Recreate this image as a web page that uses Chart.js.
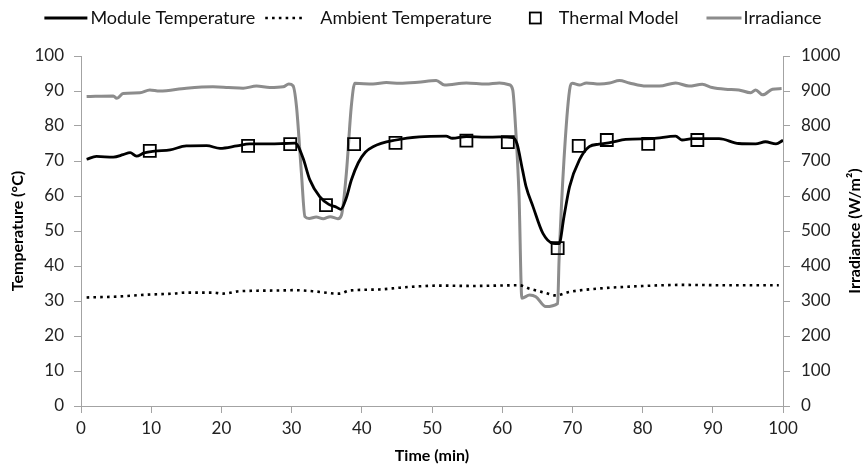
<!DOCTYPE html>
<html lang="en">
<head>
    <meta charset="UTF-8">
    <title>Module Temperature and Irradiance</title>
    <script src="https://cdn.jsdelivr.net/npm/chart.js"></script>
    <style>
        body { margin: 0; background: #fff; }
    </style>
</head>
<body>
    <canvas id="grafico" width="867" height="469"></canvas>

    <script>
        // Module temperature (solid black)
        const moduleTime = [0.8, 2.2, 4.6, 6.0, 7.0, 7.9, 9.0, 10.5, 12.7, 15.0, 17.9, 19.8, 22.2, 24.0, 26.9, 29.0, 30.5,
            31.6, 32.6, 34.0, 35.3, 36.4, 37.0, 37.8, 38.5, 39.5, 40.5, 41.6, 44.9, 48.2, 52.0, 52.9, 54.9, 57.7, 59.6, 61.5,
            62.1, 62.9, 63.4, 64.4, 65.8, 67.2, 68.1, 68.8, 69.6, 71.0, 72.4, 73.8, 75.5, 77.6, 81.4, 84.7, 85.6, 87.1,
            90.9, 93.7, 96.1, 97.5, 99.0, 100];
        const moduleTemp = [70.5, 71.3, 71.1, 71.8, 72.4, 71.4, 72.3, 72.8, 73.2, 74.3, 74.4, 73.6, 74.3, 74.9, 74.9, 75.0, 75.1,
            71.0, 64.6, 59.8, 57.6, 56.8, 56.2, 59.5, 64.5, 69.5, 72.5, 74.1, 76.0, 76.9, 77.1, 76.5, 77.0, 76.8, 76.9, 76.7,
            75.0, 67.4, 62.7, 56.9, 49.3, 46.5, 46.4, 54.1, 62.7, 70.3, 74.1, 74.8, 75.3, 76.2, 76.4, 77.1, 76.0, 76.4,
            76.4, 75.0, 74.9, 75.5, 74.9, 75.9];

        // Ambient temperature (dotted)
        const ambientTime = [0.8, 5.5, 9.3, 13.1, 15.0, 18.8, 20.2, 22.6, 28.3, 30.2, 33.0, 36.8, 38.3, 42.5, 45.4, 48.2,
            50.8, 56.0, 62.4, 63.9, 66.2, 67.6, 69.6, 73.4, 78.1, 85.7, 92.0, 99.4];
        const ambientTemp = [31.0, 31.3, 31.8, 32.1, 32.4, 32.4, 32.1, 32.8, 33.0, 33.1, 32.8, 32.1, 33.0, 33.3, 33.8, 34.2,
            34.4, 34.3, 34.5, 33.5, 32.3, 31.6, 32.6, 33.5, 34.1, 34.6, 34.5, 34.5];

        // Thermal model (squares)
        const modelTime = [9.8, 23.8, 29.8, 34.9, 38.9, 44.8, 54.9, 60.8, 67.9, 70.9, 74.9, 80.8, 87.8];
        const modelTemp = [72.9, 74.3, 74.8, 57.4, 74.8, 75.2, 75.8, 75.4, 45.1, 74.3, 76.0, 74.9, 76.0];

        // Irradiance (grey, right axis)
        const irrTime = [0.8, 4.6, 5.1, 6.0, 8.4, 9.8, 11.2, 15.0, 18.8, 21.0, 23.1, 25.0, 26.9, 28.8, 29.6, 30.2,
            30.7, 31.4, 31.9, 32.5, 33.5, 34.5, 35.5, 36.6, 37.1, 37.8, 38.5, 39.0, 41.6, 43.5, 45.4, 48.0, 50.6, 51.8,
            54.9, 57.7, 59.6, 61.0, 61.5, 61.9, 62.4, 62.8, 63.9, 64.8, 66.2, 67.9, 68.1, 68.8, 69.6, 70.0, 71.0, 72.0,
            73.9, 75.3, 76.7, 78.1, 80.5, 82.4, 84.7, 86.6, 88.5, 89.9, 91.8, 93.7, 95.4, 96.1, 97.1, 98.5, 99.8];
        const irrValues = [884, 886, 879, 893, 895, 903, 900, 908, 912, 910, 908, 914, 910, 912, 920, 915,
            855, 665, 541, 536, 540, 535, 541, 535, 545, 665, 855, 922, 920, 924, 922, 925, 930, 917,
            923, 920, 923, 918, 903, 798, 600, 308, 317, 312, 284, 293, 417, 703, 903, 922, 917, 923,
            920, 923, 930, 923, 914, 914, 923, 914, 919, 910, 905, 903, 895, 903, 889, 905, 907];

        const timeTicks = { min: 0, max: 100, step: 10 };
        const tempTicks = { min: 0, max: 100, step: 10 };
        const irrTicks = { min: 0, max: 1000, step: 100 };

        const pares = (xs, ys) => xs.map((x, i) => ({ x: x, y: ys[i] }));

        const FONTE = 'Lato';
        const CINZA_EIXO = '#a3a3a3';

        // legenda em linha, como no Excel
        const legendaLinha = {
            id: 'legendaLinha',
            afterDraw(chart) {
                const ctx = chart.ctx;
                const specs = [
                    { sample: 43, before: 3, after: 10 },
                    { sample: 37, before: 18, after: 38 },
                    { sample: 11, before: 18, after: 28 },
                    { sample: 35, before: 2, after: 0 }
                ];
                ctx.save();
                ctx.font = '18px ' + FONTE;
                let total = 0;
                specs.forEach((s, i) => {
                    s.tw = ctx.measureText(chart.data.datasets[i].label).width;
                    total += s.sample + s.before + s.tw + s.after;
                });
                let x = 433 - total / 2;
                const y = 18;
                specs.forEach((s, i) => {
                    const ds = chart.data.datasets[i];
                    ctx.strokeStyle = ds.borderColor;
                    if (i === 2) {
                        ctx.setLineDash([]);
                        ctx.lineWidth = 1.8;
                        ctx.strokeRect(x, y - 5.5, 11, 11);
                    } else {
                        ctx.lineWidth = ds.borderWidth;
                        ctx.setLineDash(ds.borderDash || []);
                        ctx.beginPath();
                        ctx.moveTo(x, y);
                        ctx.lineTo(x + s.sample, y);
                        ctx.stroke();
                    }
                    x += s.sample + s.before;
                    ctx.setLineDash([]);
                    ctx.fillStyle = '#111';
                    ctx.textBaseline = 'middle';
                    ctx.fillText(ds.label, x, y);
                    x += s.tw + s.after;
                });
                ctx.restore();
            }
        };

        // título do eixo direito, lido de baixo para cima
        const tituloDireito = {
            id: 'tituloDireito',
            afterDraw(chart) {
                const ctx = chart.ctx;
                const area = chart.chartArea;
                ctx.save();
                ctx.translate(855, (area.top + area.bottom) / 2);
                ctx.rotate(-Math.PI / 2);
                ctx.font = 'bold 16px ' + FONTE;
                ctx.fillStyle = '#000';
                ctx.textAlign = 'center';
                ctx.textBaseline = 'middle';
                ctx.fillText('Irradiance (W/m²)', 0, 0);
                ctx.restore();
            }
        };

        const ctx = document.getElementById('grafico').getContext('2d');
        const grafico = new Chart(ctx, {
            type: 'line',
            data: {
                datasets: [{
                    label: 'Module Temperature',
                    data: pares(moduleTime, moduleTemp),
                    yAxisID: 'y',
                    borderColor: '#000',
                    borderWidth: 2.8,
                    pointRadius: 0,
                    cubicInterpolationMode: 'monotone'
                }, {
                    label: 'Ambient Temperature',
                    data: pares(ambientTime, ambientTemp),
                    yAxisID: 'y',
                    borderColor: '#000',
                    borderWidth: 2.6,
                    borderDash: [2.6, 4.2],
                    borderCapStyle: 'butt',
                    pointRadius: 0,
                    cubicInterpolationMode: 'monotone'
                }, {
                    label: 'Thermal Model',
                    data: pares(modelTime, modelTemp),
                    yAxisID: 'y',
                    showLine: false,
                    borderColor: '#000',
                    pointStyle: 'rect',
                    pointRadius: 8.5,
                    pointBorderWidth: 1.8,
                    pointBorderColor: '#000',
                    pointBackgroundColor: 'rgba(0,0,0,0)'
                }, {
                    label: 'Irradiance',
                    data: pares(irrTime, irrValues),
                    yAxisID: 'y1',
                    borderColor: '#8c8c8c',
                    borderWidth: 3,
                    pointRadius: 0,
                    cubicInterpolationMode: 'monotone'
                }]
            },
            options: {
                responsive: false,
                animation: false,
                layout: { padding: { top: 56, left: 0, right: 0, bottom: 0 } },
                plugins: {
                    legend: { display: false },
                    tooltip: { enabled: false }
                },
                scales: {
                    x: {
                        type: 'linear',
                        min: timeTicks.min,
                        max: timeTicks.max,
                        afterFit: s => { s.height = 63; },
                        border: { display: true, color: CINZA_EIXO },
                        grid: { drawOnChartArea: false, tickLength: 7, color: CINZA_EIXO },
                        ticks: { stepSize: timeTicks.step, padding: 5, color: '#222', font: { family: FONTE, size: 17 } },
                        title: {
                            display: true,
                            text: 'Time (min)',
                            color: '#000',
                            font: { family: FONTE, size: 16, weight: 'bold' },
                            padding: { top: 0, bottom: 4 }
                        }
                    },
                    y: {
                        position: 'left',
                        min: tempTicks.min,
                        max: tempTicks.max,
                        afterFit: s => { s.width = 81; },
                        border: { display: true, color: CINZA_EIXO },
                        grid: { drawOnChartArea: false, tickLength: 7, color: CINZA_EIXO },
                        ticks: { stepSize: tempTicks.step, padding: 10, color: '#222', font: { family: FONTE, size: 17 } },
                        title: {
                            display: true,
                            text: 'Temperature (°C)',
                            color: '#000',
                            font: { family: FONTE, size: 16, weight: 'bold' },
                            padding: { top: 8, bottom: 0 }
                        }
                    },
                    y1: {
                        position: 'right',
                        min: irrTicks.min,
                        max: irrTicks.max,
                        afterFit: s => { s.width = 84; },
                        border: { display: true, color: CINZA_EIXO },
                        grid: { drawOnChartArea: false, tickLength: 7, color: CINZA_EIXO },
                        ticks: {
                            stepSize: irrTicks.step,
                            padding: 11,
                            color: '#222',
                            font: { family: FONTE, size: 17 },
                            callback: v => String(v)
                        }
                    }
                }
            },
            plugins: [legendaLinha, tituloDireito]
        });
    </script>
</body>
</html>
